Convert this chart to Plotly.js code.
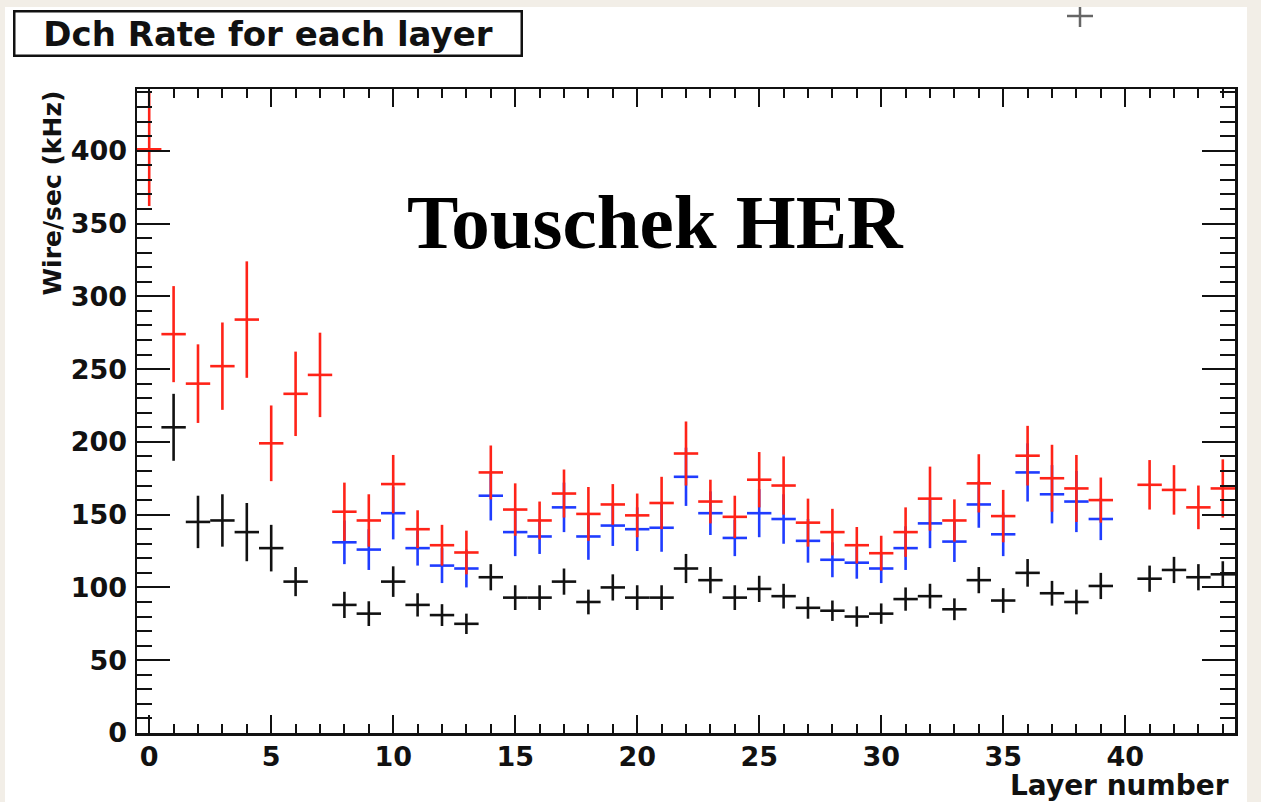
<!DOCTYPE html>
<html>
<head>
<meta charset="utf-8">
<script src="https://cdn.plot.ly/plotly-3.0.1.min.js"></script>
<style>html,body{margin:0;padding:0;background:#f2eee7;}#chart{width:1261px;height:802px;}</style>
</head>
<body>
<div id="chart"></div>
<script>
// Layer numbers
const layers = [0,1,2,3,4,5,6,7,8,9,10,11,12,13,14,15,16,17,18,19,20,21,22,23,24,25,26,27,28,29,30,31,32,33,34,35,36,37,38,39,40,41,42,43,44];

// Black series (rate, kHz) and its errors
const blackRate = [null,210,145,146,138,127,104,null,88,82,104,88,81,75,107,93,93,104,90,100,93,93,113,105,93,99,94,86,84,80,82,92,94,85,105,91,110,96,90,101,null,106,112,107,109];
const blackErr  = [null,23,18,18,20,16,10,null,9,8.5,10.5,8,7.5,7,9,8.5,8.5,9,8.5,9,8.5,8.5,10,9,8.5,9,8.5,7.5,7,7,7,8,8.5,7.5,9,8.5,9.5,8.5,8.5,9,null,9,9,9,9];

// Blue series
const blueRate = [null,null,null,null,null,null,null,null,131,126,151,127,115,113,163,138,135,155,135,142.5,140,141,176,151,134,151,147,132,119,117,113,127,144,131.5,157,136.5,179,164,159,147,null,null,null,null,null];
const blueErr  = [null,null,null,null,null,null,null,null,15,14,18,12,12,13,17,16.5,12,17,16,14,15,16.5,20,15,12.5,16.5,17,15,12,11,10,15,17,14,16,15,20,20,21,14.5,null,null,null,null,null];

// Red series
const redRate = [401,274,240,252,284,199,233,246,152,146,171,140,129,124,179,153.5,146,164.5,150.5,157,149.5,158,192,159,148.5,174,170,144.5,138,129,123.5,138,161,146,171.5,149,190.5,175,168,160,null,170.5,167,155,168];
const redErr  = [39,33,27,30,40,26,29,29,20,18,20,13,14,15,18.5,18,13,16.5,18.5,14,15,18,22,15,14.5,19,20,16.5,16,12.5,12,17,22,14.5,20,18,20.5,23,23,15.5,null,17,17,15,20];

// Axis tick values
const xTicks = [0,5,10,15,20,25,30,35,40];
const yTicks = [0,50,100,150,200,250,300,350,400];

function series(rate, err, color){
  return {
    x: layers, y: rate, type: 'scatter', mode: 'markers',
    marker: {size: 1, color: 'rgba(0,0,0,0)'},
    error_y: {type: 'data', array: err, visible: true, width: 0, thickness: 2.6, color: color},
    error_x: {type: 'constant', value: 0.5, visible: true, width: 0, thickness: 2.6, color: color},
    hoverinfo: 'skip', showlegend: false, cliponaxis: true
  };
}

const data = [
  series(blackRate, blackErr, '#111111'),
  series(blueRate, blueErr, '#1f3cff'),
  series(redRate, redErr, '#ff2318')
];

const tickFont = {family: 'DejaVu Sans', size: 27, color: '#111', weight: 700};
const bold = (s) => ({family: 'DejaVu Sans', size: s, color: '#111', weight: 700});

// pixel -> paper helpers for plot area 137..1235 x 89..733
const px = (v) => (v - 137) / 1098;
const py = (v) => (733 - v) / 644;

const layout = {
  width: 1261, height: 802,
  margin: {l: 137, r: 26, t: 89, b: 69, pad: 0},
  paper_bgcolor: '#f2eee7',
  plot_bgcolor: 'rgba(0,0,0,0)',
  showlegend: false,
  hovermode: false,
  xaxis: {
    range: [-0.5, 44.5], tickvals: xTicks, ticktext: xTicks.map(String),
    ticks: 'inside', ticklen: 18, tickwidth: 2, tickcolor: '#111',
    minor: {dtick: 1, tick0: 0, ticks: 'inside', ticklen: 9, tickwidth: 2, tickcolor: '#111'},
    showline: true, linewidth: 2.5, linecolor: '#111', mirror: 'ticks',
    showgrid: false, zeroline: false, tickfont: tickFont, ticklabelstandoff: -2
  },
  yaxis: {
    range: [0, 442.4], tickvals: yTicks, ticktext: yTicks.map(String),
    ticks: 'inside', ticklen: 33, tickwidth: 2, tickcolor: '#111',
    minor: {dtick: 10, tick0: 0, ticks: 'inside', ticklen: 15, tickwidth: 2, tickcolor: '#111'},
    showline: true, linewidth: 2.5, linecolor: '#111', mirror: 'ticks',
    showgrid: false, zeroline: false, tickfont: tickFont, ticklabelstandoff: 2
  },
  shapes: [
    {type: 'rect', xref: 'paper', yref: 'paper', x0: px(5), x1: px(1247), y0: py(803), y1: py(7),
     fillcolor: '#ffffff', line: {width: 0}, layer: 'below'},
    {type: 'line', xref: 'paper', yref: 'paper', x0: px(1067), x1: px(1093), y0: py(16), y1: py(16),
     line: {color: '#666', width: 2.5}},
    {type: 'line', xref: 'paper', yref: 'paper', x0: px(1080), x1: px(1080), y0: py(7), y1: py(27),
     line: {color: '#666', width: 2.5}}
  ],
  annotations: [
    {text: 'Dch Rate for each layer', xref: 'paper', yref: 'paper', x: px(267.5), y: py(33),
     xanchor: 'center', yanchor: 'middle', showarrow: false, font: bold(34),
     bordercolor: '#111', borderwidth: 2.5, bgcolor: '#ffffff', width: 505, height: 42, borderpad: 0},
    {text: 'Touschek HER', xref: 'paper', yref: 'paper', x: px(655.5), y: py(222),
     xanchor: 'center', yanchor: 'middle', showarrow: false,
     font: {family: 'Liberation Serif', size: 77, color: '#000', weight: 700}},
    {text: 'Layer number', xref: 'paper', yref: 'paper', x: px(1231), y: py(785),
     xanchor: 'right', yanchor: 'middle', showarrow: false, font: bold(28)},
    {text: 'Wire/sec (kHz)', xref: 'paper', yref: 'paper', x: px(52), y: py(89),
     xanchor: 'center', yanchor: 'top', textangle: -90, showarrow: false, font: bold(25)}
  ]
};

Plotly.newPlot('chart', data, layout, {displayModeBar: false, staticPlot: true});
</script>
</body>
</html>
